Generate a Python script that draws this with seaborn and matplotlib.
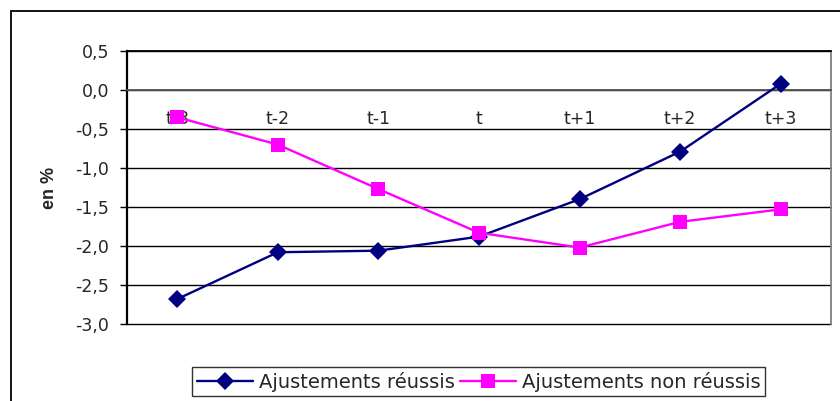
import matplotlib
matplotlib.use("Agg")
import matplotlib.pyplot as plt
import matplotlib.ticker as mticker
from matplotlib.patches import Rectangle
import seaborn as sns
import pandas as pd
import numpy as np

categories = ["t-3", "t-2", "t-1", "t", "t+1", "t+2", "t+3"]
reussis = [-2.68, -2.08, -2.06, -1.88, -1.40, -0.79, 0.08]
non_reussis = [-0.35, -0.70, -1.27, -1.83, -2.02, -1.69, -1.53]
series_names = ["Ajustements réussis", "Ajustements non réussis"]
y_ticks = [0.5, 0.0, -0.5, -1.0, -1.5, -2.0, -2.5, -3.0]

sns.set_theme(style="white")
plt.rcParams["font.family"] = ["DejaVu Sans"]

df = pd.DataFrame({
    "pos": list(range(len(categories))) * 2,
    "value": reussis + non_reussis,
    "serie": [series_names[0]] * len(categories) + [series_names[1]] * len(categories),
})

fig = plt.figure(figsize=(8.4, 4.01), dpi=100)
ax = fig.add_axes([127 / 840, 1 - 324 / 401, (831 - 127) / 840, (324 - 51) / 401])

palette = {series_names[0]: "#000080", series_names[1]: "#FF00FF"}
markers = {series_names[0]: "D", series_names[1]: "s"}
sns.lineplot(data=df, x="pos", y="value", hue="serie", style="serie",
             palette=palette, markers=markers, dashes=False,
             markeredgewidth=0, linewidth=1.7, ax=ax, zorder=5, clip_on=False)
for line in ax.get_lines():
    if line.get_marker() == "D":
        line.set_markersize(9.5)
    elif line.get_marker() == "s":
        line.set_markersize(10.5)

ax.set_xlim(-0.5, len(categories) - 0.5)
ax.set_ylim(-3.0, 0.5)
ax.set_yticks(y_ticks)
ax.yaxis.set_major_formatter(mticker.FuncFormatter(lambda v, p: f"{v:.1f}".replace(".", ",")))
ax.grid(axis="y", color="black", linewidth=1.0)
for gl in ax.get_ygridlines():
    gl.set_clip_on(False)
ax.set_axisbelow(True)

ax.spines["bottom"].set_position(("data", 0))
ax.spines["bottom"].set_color("#555555")
ax.spines["bottom"].set_linewidth(1.3)
ax.spines["top"].set_color("black")
ax.spines["top"].set_linewidth(1.3)
ax.spines["right"].set_color("#808080")
ax.spines["right"].set_linewidth(1.3)
ax.spines["left"].set_color("black")
ax.spines["left"].set_linewidth(1.6)

ax.set_xticks(np.arange(-0.5, len(categories), 1.0))
ax.set_xticklabels([])
ax.set_xticks(np.arange(len(categories)), minor=True)
ax.set_xticklabels(categories, minor=True, fontsize=12.5)
ax.tick_params(axis="x", which="major", direction="inout", length=8, width=1, color="#333333")
ax.tick_params(axis="x", which="minor", length=0, pad=14.5)
ax.tick_params(axis="y", direction="out", length=5, width=1, color="black", labelsize=12.5, pad=8, left=True)
ax.set_xlabel("")
ax.set_ylabel("en %", fontsize=13, fontweight="bold", labelpad=12,
              fontfamily=["Liberation Sans", "DejaVu Sans"])

handles, labels = ax.get_legend_handles_labels()
for h in handles:
    if h.get_marker() == "s":
        h.set_markersize(9.5)
    elif h.get_marker() == "D":
        h.set_markersize(9)
leg = ax.legend(handles, labels, loc="center", bbox_to_anchor=(478.5 / 840, 1 - 381.5 / 401),
                bbox_transform=fig.transFigure, ncol=2, frameon=True, fancybox=False,
                fontsize=14, handlelength=2.9, columnspacing=0.25, handletextpad=0.3,
                borderpad=0.25, borderaxespad=0, markerscale=1.0)
leg.get_frame().set_edgecolor("black")
leg.get_frame().set_linewidth(1.0)

fig.patches.append(Rectangle((11 / 840, -0.1), 1.0, 1 - 11 / 401 + 0.1, transform=fig.transFigure,
                             fill=False, edgecolor="black", linewidth=1.3))

fig.savefig("out.png", dpi=100)
